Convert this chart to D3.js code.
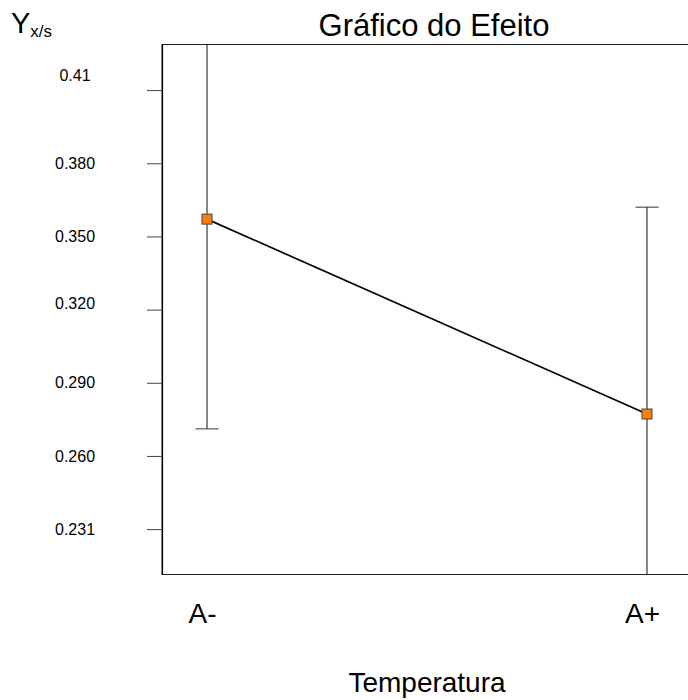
<!DOCTYPE html>
<html>
<head>
<meta charset="utf-8">
<script src="https://cdn.jsdelivr.net/npm/d3@7"></script>
<style>
  html, body { margin: 0; padding: 0; background: #fff; }
  text { font-family: "Liberation Sans", Arial, sans-serif; fill: #000; }
</style>
</head>
<body>
<div id="chart"></div>
<script>
// Effect plot: mean response at each level of Temperatura, with error bars
const categories = ["A-", "A+"];
const means = [0.3571, 0.2772];
const errors = [0.0860, 0.0848];
const yTickValues = [0.41, 0.38, 0.35, 0.32, 0.29, 0.26, 0.23];
const yTickLabels = ["0.41", "0.380", "0.350", "0.320", "0.290", "0.260", "0.231"];
const yDomain = [0.2116, 0.4289];

const W = 688, H = 700;
const plot = { left: 162, top: 44, right: 692, bottom: 574 };

const svg = d3.select("#chart").append("svg")
  .attr("width", W).attr("height", H);

const x = d3.scalePoint()
  .domain(categories)
  .range([plot.left, plot.right])
  .padding(0.1023);

const y = d3.scaleLinear()
  .domain(yDomain)
  .range([plot.bottom, plot.top]);

// clip region for the plot area
svg.append("defs").append("clipPath").attr("id", "plotClip")
  .append("rect")
  .attr("x", plot.left).attr("y", plot.top)
  .attr("width", plot.right - plot.left).attr("height", plot.bottom - plot.top);

// frame
svg.append("rect")
  .attr("x", plot.left).attr("y", plot.top + 0.5)
  .attr("width", plot.right - plot.left).attr("height", plot.bottom - plot.top)
  .attr("fill", "none").attr("stroke", "#222").attr("stroke-width", 1);
svg.append("line")
  .attr("x1", plot.left + 0.5).attr("x2", plot.left + 0.5)
  .attr("y1", plot.top).attr("y2", plot.bottom)
  .attr("stroke", "#000").attr("stroke-width", 1.2);

// y axis ticks with labels set apart on the left
const yAxis = d3.axisLeft(y)
  .tickValues(yTickValues)
  .tickSize(15)
  .tickFormat((d, i) => yTickLabels[i]);

const gy = svg.append("g")
  .attr("transform", `translate(${plot.left},0)`)
  .call(yAxis);
gy.select(".domain").remove();
gy.selectAll(".tick line").attr("stroke", "#444");
gy.selectAll(".tick text")
  .attr("x", 75 - plot.left)
  .attr("text-anchor", "middle")
  .attr("dy", (d, i) => i === 0 ? "-0.6em" : (i === 3 ? "-0.05em" : "0.32em"))
  .style("font-size", "16px")
  .style("font-family", "'Liberation Sans', Arial, sans-serif")
  .attr("fill", "#000");

// x category labels
const gx = svg.append("g")
  .attr("transform", `translate(0,${plot.bottom})`)
  .call(d3.axisBottom(x).tickSize(0).tickPadding(0));
gx.select(".domain").remove();
gx.selectAll(".tick text")
  .attr("y", 49)
  .attr("dy", 0)
  .attr("dx", -5)
  .style("font-size", "28px")
  .style("font-family", "'Liberation Sans', Arial, sans-serif")
  .attr("fill", "#000");

const data = categories.map((c, i) => ({ c, m: means[i], e: errors[i] }));

const inner = svg.append("g").attr("clip-path", "url(#plotClip)");

// error bars
const capHalf = 11.5;
const eb = inner.selectAll("g.err").data(data).join("g").attr("class", "err");
eb.append("line")
  .attr("x1", d => x(d.c)).attr("x2", d => x(d.c))
  .attr("y1", d => y(d.m + d.e)).attr("y2", d => y(d.m - d.e))
  .attr("stroke", "#111").attr("stroke-width", 1);
eb.append("line")
  .attr("x1", d => x(d.c) - capHalf).attr("x2", d => x(d.c) + capHalf)
  .attr("y1", d => y(d.m + d.e)).attr("y2", d => y(d.m + d.e))
  .attr("stroke", "#333").attr("stroke-width", 1);
eb.append("line")
  .attr("x1", d => x(d.c) - capHalf).attr("x2", d => x(d.c) + capHalf)
  .attr("y1", d => y(d.m - d.e)).attr("y2", d => y(d.m - d.e))
  .attr("stroke", "#333").attr("stroke-width", 1);

// mean line
inner.append("path")
  .datum(data)
  .attr("fill", "none")
  .attr("stroke", "#000")
  .attr("stroke-width", 1.7)
  .attr("d", d3.line().x(d => x(d.c)).y(d => y(d.m)));

// markers
const ms = 10;
inner.selectAll("rect.mk").data(data).join("rect")
  .attr("class", "mk")
  .attr("x", d => x(d.c) - ms / 2).attr("y", d => y(d.m) - ms / 2)
  .attr("width", ms).attr("height", ms)
  .attr("fill", "#ff8000").attr("stroke", "#444").attr("stroke-width", 1);

// title
svg.append("text")
  .attr("x", 434).attr("y", 36)
  .attr("text-anchor", "middle")
  .style("font-size", "31px")
  .text("Gráfico do Efeito");

// y axis title with subscript
const yt = svg.append("text")
  .attr("x", 11).attr("y", 33)
  .style("font-size", "29px");
yt.append("tspan").text("Y");
yt.append("tspan").attr("dy", 4).style("font-size", "17px").text("x/s");

// x axis title
svg.append("text")
  .attr("x", 427).attr("y", 692)
  .attr("text-anchor", "middle")
  .style("font-size", "28px")
  .text("Temperatura");
</script>
</body>
</html>
